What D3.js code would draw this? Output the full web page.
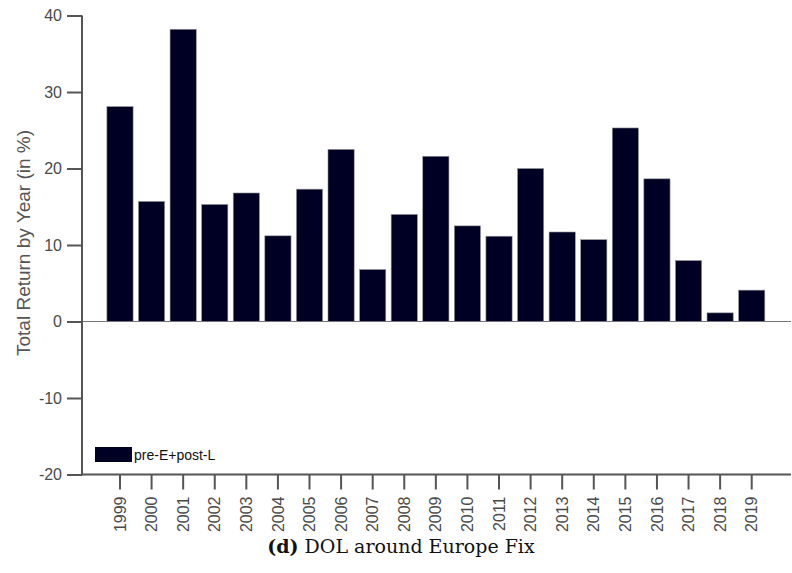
<!DOCTYPE html>
<html>
<head>
<meta charset="utf-8">
<script src="https://cdn.jsdelivr.net/npm/d3@7"></script>
<style>
  html, body { margin: 0; padding: 0; background: #fff; }
  svg { display: block; }
</style>
</head>
<body>
<svg id="chart" width="792" height="573"></svg>
<script>
const years = ["1999","2000","2001","2002","2003","2004","2005","2006","2007","2008","2009",
               "2010","2011","2012","2013","2014","2015","2016","2017","2018","2019"];
const totalReturn = [28.1, 15.7, 38.2, 15.3, 16.8, 11.2, 17.3, 22.5, 6.8, 14.0, 21.6,
                     12.5, 11.15, 20.0, 11.7, 10.7, 25.3, 18.65, 7.97, 1.13, 4.1];
const yTicks = [-20, -10, 0, 10, 20, 30, 40];
const seriesName = "pre-E+post-L";
const yLabel = "Total Return by Year (in %)";
const captionBold = "(d)";
const captionText = " DOL around Europe Fix";

(function () {
const svg = d3.select("#chart");
const axisColor = "#555";
const textColor = "#4a4a4a";
const barColor = "#000025";
const sans = "'Liberation Sans', Arial, Helvetica, sans-serif";

const mLeft = 82, mRight = 791, mTop = 15.5, mBottom = 474.5;

const y = d3.scaleLinear().domain([-20, 40]).range([mBottom, mTop]);
const x = d3.scaleBand().domain(years).range([104.2, 767.5]).paddingInner(0.17).paddingOuter(0.085);

// zero line
svg.append("line")
  .attr("x1", mLeft).attr("x2", mRight)
  .attr("y1", y(0)).attr("y2", y(0))
  .attr("stroke", "#777").attr("stroke-width", 1);

// bars
svg.append("g").selectAll("rect")
  .data(years.map((yr, i) => ({yr, v: totalReturn[i]})))
  .join("rect")
  .attr("x", d => x(d.yr))
  .attr("width", x.bandwidth())
  .attr("y", d => y(Math.max(0, d.v)))
  .attr("height", d => Math.abs(y(d.v) - y(0)))
  .attr("fill", barColor)
  .attr("stroke", "#999")
  .attr("stroke-width", 0.6);

// y axis
const yAxis = svg.append("g")
  .attr("transform", `translate(${mLeft},0)`)
  .call(d3.axisLeft(y).tickValues(yTicks).tickSize(15).tickSizeOuter(0).tickPadding(5)
        .tickFormat(d => String(d)));
yAxis.select(".domain").remove();
yAxis.selectAll(".tick line").attr("stroke", axisColor).attr("stroke-width", 2);
yAxis.selectAll(".tick text").attr("fill", textColor)
  .style("font-family", sans).style("font-size", "16px");

// x axis
const xAxis = svg.append("g")
  .attr("transform", `translate(0,${mBottom})`)
  .call(d3.axisBottom(x).tickSize(15).tickSizeOuter(0));
xAxis.select(".domain").remove();
xAxis.selectAll(".tick line").attr("stroke", axisColor).attr("stroke-width", 2);
xAxis.selectAll(".tick text")
  .attr("fill", textColor)
  .style("font-family", sans).style("font-size", "16px")
  .attr("transform", "rotate(-90)")
  .attr("text-anchor", "end")
  .attr("dy", "0.35em")
  .attr("x", -22)
  .attr("y", 0);

// spines
svg.append("line").attr("x1", mLeft).attr("x2", mLeft).attr("y1", mTop).attr("y2", mBottom + 0.75)
  .attr("stroke", axisColor).attr("stroke-width", 2);
svg.append("line").attr("x1", mLeft - 0.75).attr("x2", mRight).attr("y1", mBottom).attr("y2", mBottom)
  .attr("stroke", axisColor).attr("stroke-width", 2);

// y label
svg.append("text")
  .attr("transform", `translate(30,243) rotate(-90)`)
  .attr("text-anchor", "middle")
  .attr("fill", "#555")
  .style("font-family", sans).style("font-size", "19px")
  .text(yLabel);

// legend
svg.append("rect").attr("x", 95).attr("y", 447).attr("width", 37).attr("height", 15).attr("fill", barColor);
svg.append("text").attr("x", 134).attr("y", 455).attr("dy", "0.35em")
  .attr("fill", "#111")
  .style("font-family", sans).style("font-size", "14px")
  .text(seriesName);

// caption
const cap = svg.append("text").attr("x", 401).attr("y", 553).attr("text-anchor", "middle")
  .attr("fill", "#111")
  .style("font-family", "'DejaVu Serif', 'Liberation Serif', serif").style("font-size", "19px");
cap.append("tspan").style("font-weight", "bold").text(captionBold);
cap.append("tspan").text(captionText);
})();
</script>
</body>
</html>
